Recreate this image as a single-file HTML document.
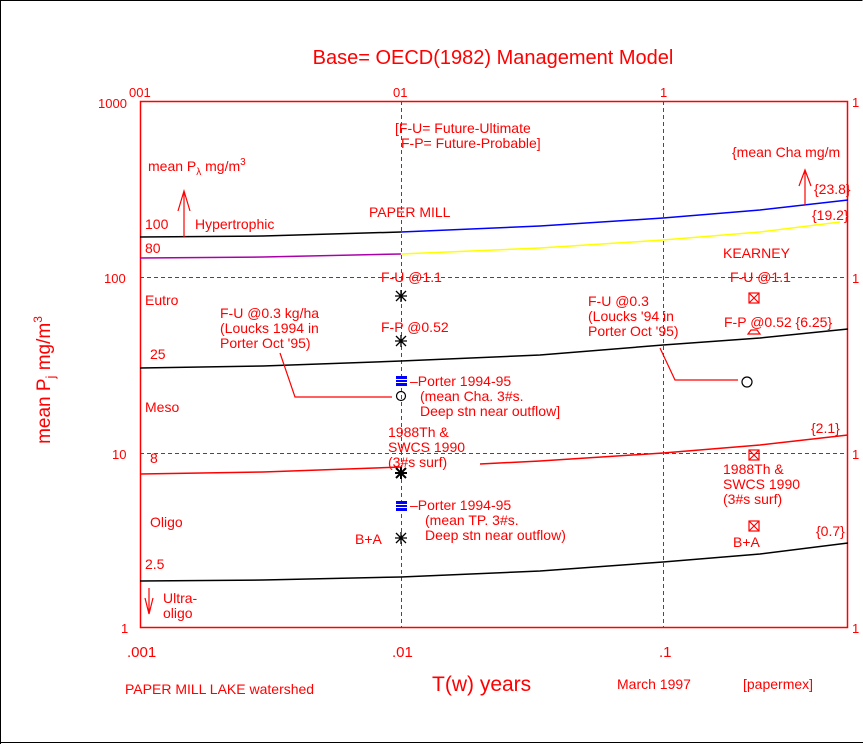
<!DOCTYPE html>
<html><head><style>
html,body{margin:0;padding:0;background:#fff;}
svg{display:block;}
text{font-family:"Liberation Sans",sans-serif;fill:#f00;}
</style></head><body>
<svg width="863" height="744" viewBox="0 0 863 744" xmlns="http://www.w3.org/2000/svg">
<rect x="0" y="0" width="863" height="744" fill="#fff"/>
<path d="M0.5 0.5H862.5M0.5 0V744M0 742.5H863" stroke="#000" stroke-width="1" fill="none"/>
<text x="493" y="64" font-size="20" text-anchor="middle">Base= OECD(1982) Management Model</text>
<!-- frame -->
<rect x="140.5" y="101.5" width="707" height="526" fill="none" stroke="#f00" stroke-width="1.5"/>
<!-- grid dashed -->
<line x1="401.5" y1="101" x2="401.5" y2="627" stroke="#f00" stroke-dasharray="4,3"/>
<line x1="663.5" y1="101" x2="663.5" y2="627" stroke="#f00" stroke-dasharray="4,3"/>
<line x1="140" y1="277.5" x2="848" y2="277.5" stroke="#f00" stroke-dasharray="4,3"/>
<line x1="140" y1="453.5" x2="848" y2="453.5" stroke="#f00" stroke-dasharray="4,3"/>
<!-- axis labels -->
<g font-size="13">
<text x="98" y="108">1000</text><text x="129" y="97">001</text>
<text x="393" y="97">01</text><text x="660" y="97">1</text>
<text x="852" y="107">1</text>
<text x="104" y="283">100</text><text x="852" y="283">1</text>
<text x="112" y="459">10</text><text x="852" y="459">1</text>
<text x="121" y="633">1</text><text x="852" y="633">1</text>
<text x="127" y="657" font-size="15">.001</text>
<text x="392" y="657" font-size="15">.01</text>
<text x="659" y="657" font-size="15">.1</text>
</g>
<text transform="translate(50,380) rotate(-90)" font-size="19" text-anchor="middle">mean P<tspan font-size="13" dy="5">j</tspan><tspan dy="-5"> mg/m</tspan><tspan font-size="12" dy="-8">3</tspan></text>
<text x="432" y="691" font-size="21">T(w) years</text>
<text x="125" y="694" font-size="14">PAPER MILL LAKE watershed</text>
<text x="617" y="689" font-size="14">March 1997</text>
<text x="743" y="689" font-size="14">[papermex]</text>
<!-- curves -->
<g fill="none" stroke-width="1.5">
<polyline points="140,237 263,236 401,232" stroke="#000"/>
<polyline points="401,232 540,226 663,218 760,210 848,200" stroke="#00f"/>
<polyline points="140,258 263,257 401,254" stroke="#a0a"/>
<polyline points="401,254 540,248 663,240 760,232 840,222" stroke="#ff0"/>
<polyline points="140,368 263,366 401,361 540,355 663,345 760,338 848,329" stroke="#000"/>
<polyline points="140,474 263,472 401,467" stroke="#f00"/>
<polyline points="480,464 540,461 663,453 760,445 848,435" stroke="#f00"/>
<polyline points="140,581 263,580 401,577 540,571 663,562 760,554 848,543" stroke="#000"/>
</g>
<!-- text labels -->
<g font-size="14">
<text x="395" y="133">[F-U= Future-Ultimate</text>
<text x="401" y="148">F-P= Future-Probable]</text>
<text x="148" y="171">mean P<tspan font-size="10" dy="4">λ</tspan><tspan dy="-4"> mg/m</tspan><tspan font-size="10" dy="-6">3</tspan></text>
<text x="145" y="229">100</text><text x="195" y="229">Hypertrophic</text>
<text x="145" y="253">80</text>
<text x="369" y="217">PAPER MILL</text>
<text x="381" y="282">F-U @1.1</text>
<text x="381" y="332">F-P @0.52</text>
<text x="145" y="305">Eutro</text>
<text x="220" y="318">F-U @0.3 kg/ha</text>
<text x="220" y="333">(Loucks 1994 in</text>
<text x="220" y="348">Porter Oct '95)</text>
<text x="150" y="359">25</text>
<text x="145" y="412">Meso</text>
<text x="410" y="386">–Porter 1994-95</text>
<text x="420" y="401">(mean Cha. 3#s.</text>
<text x="420" y="416">Deep stn near outflow]</text>
<text x="388" y="437">1988Th &amp;</text>
<text x="388" y="452">SWCS 1990</text>
<text x="388" y="467">(3#s surf)</text>
<text x="150" y="463">8</text>
<text x="150" y="527">Oligo</text>
<text x="410" y="510">–Porter 1994-95</text>
<text x="425" y="525">(mean TP. 3#s.</text>
<text x="425" y="540">Deep stn near outflow)</text>
<text x="355" y="544">B+A</text>
<text x="145" y="569">2.5</text>
<text x="163" y="603">Ultra-</text>
<text x="163" y="618">oligo</text>
<text x="732" y="157">{mean Cha mg/m</text>
<text x="814" y="194">{23.8}</text>
<text x="812" y="220">{19.2}</text>
<text x="723" y="258">KEARNEY</text>
<text x="730" y="282">F-U @1.1</text>
<text x="724" y="327">F-P @0.52 {6.25}</text>
<text x="588" y="306">F-U @0.3</text>
<text x="588" y="321">(Loucks '94 in</text>
<text x="588" y="336">Porter Oct '95)</text>
<text x="811" y="433">{2.1}</text>
<text x="723" y="474">1988Th &amp;</text>
<text x="723" y="489">SWCS 1990</text>
<text x="723" y="504">(3#s surf)</text>
<text x="733" y="547">B+A</text>
<text x="816" y="536">{0.7}</text>
</g>
<!-- arrows -->
<g stroke="#f00" fill="none" stroke-width="1.2">
<path d="M184 237V191M178 211L184 191L190 211"/>
<path d="M805 205V170M799 186L805 170L811 186"/>
<path d="M149 588V614M145 598L149 614L153 598"/>
<polyline points="280,353 295,397 392,397"/>
<polyline points="660,348 675,380 738,380"/>
</g>
<!-- markers -->
<g stroke="#000" stroke-width="1.3">
<path d="M395 296h12M401 290v12M396 291l10 10M406 291l-10 10"/>
<path d="M395 341h12M401 335v12M396 336l10 10M406 336l-10 10"/>
<path d="M395 473h12M401 467v12M396 468l10 10M406 468l-10 10" stroke-width="2"/>
<path d="M395 538h12M401 532v12M396 533l10 10M406 533l-10 10"/>
</g>
<g fill="#00f">
<rect x="396" y="376" width="11" height="10"/><rect x="396" y="501" width="11" height="10"/>
</g>
<g stroke="#fff" stroke-width="1"><path d="M396 379.5h11M396 382.5h11M396 504.5h11M396 507.5h11"/></g>
<g fill="none" stroke="#000" stroke-width="1.2">
<circle cx="401" cy="396" r="4.5"/><circle cx="747" cy="382" r="5"/>
</g>
<g fill="none" stroke="#f00" stroke-width="1.2">
<rect x="749" y="293" width="10" height="10"/><path d="M749 293l10 10M759 293l-10 10"/>
<rect x="749" y="450" width="10" height="10"/><path d="M749 450l10 10M759 450l-10 10"/>
<rect x="749" y="521" width="10" height="10"/><path d="M749 521l10 10M759 521l-10 10"/>
<path d="M748 334h12l-3-4h-6z"/>
</g>
</svg>
</body></html>
